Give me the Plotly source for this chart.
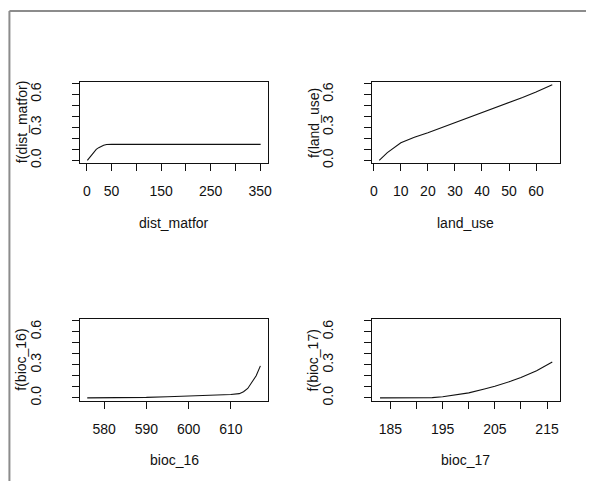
import plotly.graph_objects as go

W, H = 590, 486

# Partial response curves: predictor values and fitted f(x)
dist_matfor_x = [1, 5, 9, 14, 19, 24, 29, 34, 40, 45, 50, 100, 150, 200, 250, 300, 351]
dist_matfor_y = [0.0, 0.022, 0.045, 0.075, 0.10, 0.115, 0.127, 0.137, 0.144, 0.145, 0.145,
                 0.145, 0.145, 0.145, 0.145, 0.145, 0.145]

land_use_x = [2, 5, 10, 15, 20, 25, 30, 35, 40, 45, 50, 55, 60, 66]
land_use_y = [0.0, 0.07, 0.16, 0.21, 0.25, 0.295, 0.34, 0.385, 0.43, 0.475, 0.52, 0.57, 0.62, 0.685]

bioc_16_x = [576, 580, 585, 590, 595, 600, 605, 610, 612, 613, 614, 615, 616, 617]
bioc_16_y = [0.0, 0.0, 0.002, 0.004, 0.01, 0.015, 0.022, 0.03, 0.038, 0.055, 0.085, 0.14, 0.2, 0.29]

bioc_17_x = [183, 186, 189, 192, 193, 195, 198, 200, 203, 205, 208, 210, 213, 215, 216]
bioc_17_y = [0.0, 0.0, 0.0, 0.0, 0.002, 0.01, 0.03, 0.045, 0.08, 0.105, 0.15, 0.185, 0.245, 0.30, 0.325]

y_ticks = [0.0, 0.1, 0.2, 0.3, 0.4, 0.5, 0.6, 0.7]
y_ticktext = ["0.0", "", "", "0.3", "", "", "0.6", ""]

panels = [
    dict(name="dist_matfor", x=dist_matfor_x, y=dist_matfor_y,
         ticks=[0, 50, 100, 150, 200, 250, 300, 350],
         text=["0", "50", "", "150", "", "250", "", "350"],
         xrange=[-12.8, 365.0], box=(79.3, 268.3, 82.7, 165.0)),
    dict(name="land_use", x=land_use_x, y=land_use_y,
         ticks=[0, 10, 20, 30, 40, 50, 60],
         text=["0", "10", "20", "30", "40", "50", "60"],
         xrange=[-0.6, 68.7], box=(374.0, 563.3, 82.7, 165.0)),
    dict(name="bioc_16", x=bioc_16_x, y=bioc_16_y,
         ticks=[580, 590, 600, 610],
         text=["580", "590", "600", "610"],
         xrange=[574.4, 618.7], box=(79.3, 268.3, 322.7, 405.0)),
    dict(name="bioc_17", x=bioc_17_x, y=bioc_17_y,
         ticks=[185, 190, 195, 200, 205, 210, 215],
         text=["185", "", "195", "", "205", "", "215"],
         xrange=[181.5, 217.4], box=(374.0, 563.3, 322.7, 405.0)),
]

FONT = "Liberation Sans, Arial, sans-serif"
TXT = "#111111"
FS = 14

fig = go.Figure()
layout = dict(
    width=W, height=H,
    margin=dict(l=0, r=0, t=0, b=0),
    paper_bgcolor="white", plot_bgcolor="white",
    showlegend=False,
    font=dict(family=FONT, size=FS, color=TXT),
    annotations=[], shapes=[],
)

axis_common = dict(
    showline=True, mirror=True, linecolor="#111", linewidth=1,
    ticks="outside", ticklen=7, tickwidth=1, tickcolor="#111",
    showgrid=False, zeroline=False, fixedrange=True,
    tickfont=dict(family=FONT, size=FS, color=TXT),
)

for i, p in enumerate(panels, start=1):
    x0, x1, y0, y1 = p["box"]
    xa = "x" if i == 1 else f"x{i}"
    ya = "y" if i == 1 else f"y{i}"
    fig.add_trace(go.Scatter(
        x=p["x"], y=p["y"], mode="lines",
        line=dict(color="#111", width=1.1),
        xaxis=xa, yaxis=ya, hoverinfo="skip",
    ))
    layout[f"xaxis{'' if i == 1 else i}"] = dict(
        axis_common, domain=[x0 / W, x1 / W], anchor=ya,
        range=p["xrange"], tickmode="array",
        tickvals=p["ticks"], ticktext=p["text"],
        ticklabelstandoff=8,
    )
    layout[f"yaxis{'' if i == 1 else i}"] = dict(
        axis_common, domain=[1 - y1 / H, 1 - y0 / H], anchor=xa,
        range=[-0.027, 0.712], tickmode="array",
        tickvals=y_ticks, ticktext=y_ticktext, tickangle=-90,
        ticklabelstandoff=26,
    )
    # axis titles
    layout["annotations"].append(dict(
        text=p["name"], xref="paper", yref="paper",
        x=(x0 + x1) / 2 / W, y=1 - (y1 + 60) / H,
        xanchor="center", yanchor="middle", showarrow=False,
        font=dict(family=FONT, size=FS, color=TXT),
    ))
    layout["annotations"].append(dict(
        text=f"f({p['name']})", xref="paper", yref="paper",
        x=(x0 - 59.5) / W, y=1 - (y0 + y1) / 2 / H,
        xanchor="center", yanchor="middle", showarrow=False, textangle=-90,
        font=dict(family=FONT, size=FS, color=TXT),
    ))

# window frame along the left and top edges
layout["shapes"] = [
    dict(type="line", xref="paper", yref="paper",
         x0=7.5 / W, x1=7.5 / W, y0=0, y1=1 - 11 / H,
         line=dict(color="#8c8c8c", width=2)),
    dict(type="line", xref="paper", yref="paper",
         x0=7.5 / W, x1=1, y0=1 - 11 / H, y1=1 - 11 / H,
         line=dict(color="#8c8c8c", width=2)),
]

fig.update_layout(**layout)
fig.write_html("out.html", config={"displayModeBar": False})
